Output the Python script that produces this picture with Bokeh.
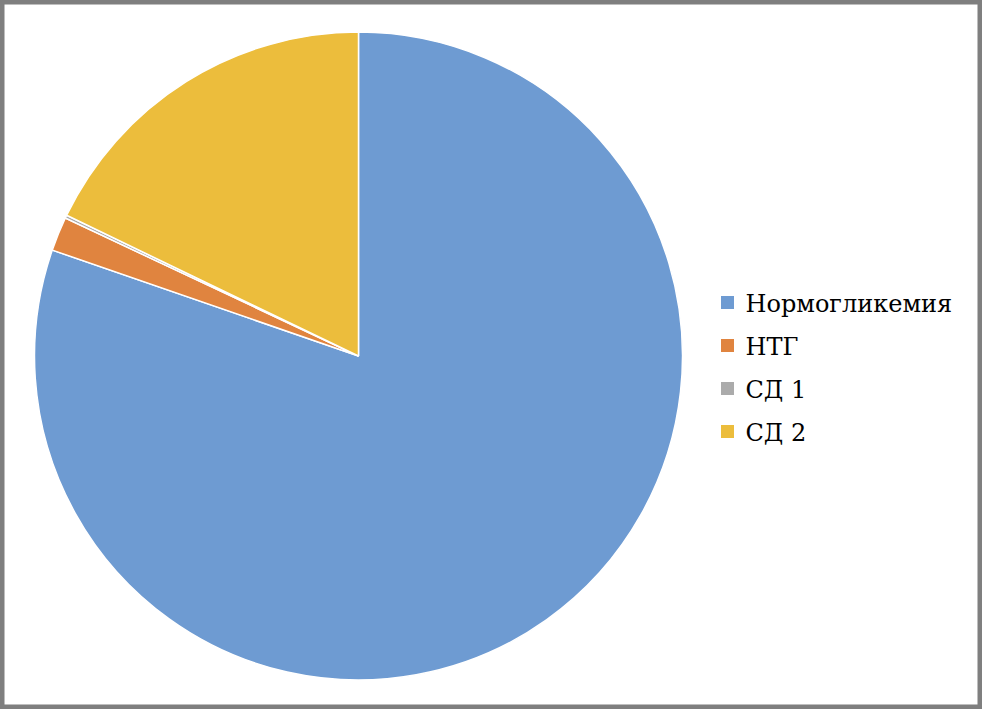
import math
from bokeh.plotting import figure
from bokeh.models import Range1d, ColumnDataSource
from bokeh.core.properties import value
from bokeh.embed import file_html
from bokeh.resources import INLINE

categories = ["Нормогликемия", "НТГ", "СД 1", "СД 2"]
shares = [80.3, 1.7, 0.15, 17.85]
colors = ["#6E9BD2", "#E0843F", "#ABABAB", "#ECBD3C"]

W, H = 982, 709
p = figure(width=W, height=H, output_backend="svg", toolbar_location=None,
           x_range=Range1d(0, W), y_range=Range1d(0, H), min_border=0)
p.axis.visible = False
p.grid.visible = False
p.outline_line_color = "#7F7F7F"
p.outline_line_width = 8
p.background_fill_color = "white"
p.border_fill_color = "white"

total = sum(shares)
starts, ends = [], []
acc = 0.0
for s in shares:
    a0 = math.pi / 2 - 2 * math.pi * acc / total
    acc += s
    a1 = math.pi / 2 - 2 * math.pi * acc / total
    starts.append(a1)
    ends.append(a0)

cx, cy, r = 358, 709 - 355.5, 324
src = ColumnDataSource(dict(start=starts, end=ends, color=colors))
p.wedge(x=cx, y=cy, radius=r, start_angle="start", end_angle="end",
        fill_color="color", line_color="white", line_width=1.5, source=src)

# legend
lx, ly0, dy = 727, 709 - 302, 43
lys = [ly0 - i * dy for i in range(len(categories))]
lsrc = ColumnDataSource(dict(x=[lx] * len(categories), y=lys, tx=[lx + 18] * len(categories),
                             ty=[y - 1 for y in lys], label=categories, color=colors))
p.scatter(x="x", y="y", marker="square", size=13, fill_color="color", line_color=None, source=lsrc)
p.text(x="tx", y="ty", text="label", text_font=value("DejaVu Serif"),
       text_font_size="24px", text_font_style="normal", text_color="black",
       text_baseline="middle", text_align="left", source=lsrc)

open("out.html", "w").write(file_html(p, INLINE))
